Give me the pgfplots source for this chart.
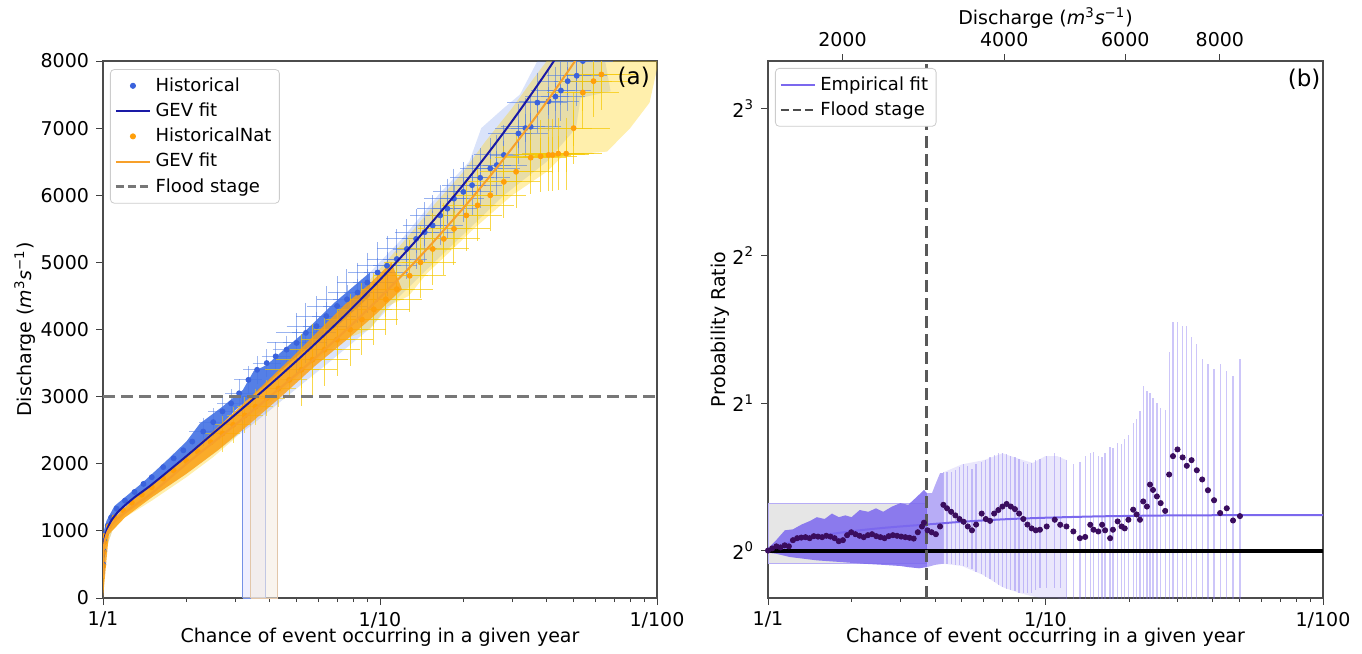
\documentclass[border=0pt]{standalone}
\usepackage{fontspec}
\setmainfont{DejaVu Sans}
\usepackage{pgfplots}
\pgfplotsset{compat=1.18}
\usepackage{pgfplotstable}

\definecolor{hblue}{HTML}{3A62DC}
\definecolor{hband}{HTML}{4674E4}
\definecolor{gevblue}{HTML}{1A1AA6}
\definecolor{norange}{HTML}{FF9F0A}
\definecolor{nband}{HTML}{FFD21A}
\definecolor{nbar}{HTML}{F5C800}
\definecolor{gevorange}{HTML}{F7A02A}
\definecolor{flood}{HTML}{777777}
\definecolor{msb}{HTML}{7B68EE}
\definecolor{prpt}{HTML}{3A0D5E}

\newcommand{\fs}{\fontsize{9.5}{11.4}\selectfont}

% Historical: return period, discharge
\pgfplotstableread{
rp q
1.002 500
1.005 700
1.01 850
1.02 950
1.04 1080
1.07 1200
1.12 1330
1.2 1450
1.3 1580
1.4 1700
1.5 1800
1.65 1950
1.8 2080
1.95 2200
2.1 2330
2.3 2480
2.5 2620
2.7 2780
2.9 2900
3.1 3050
3.35 3250
3.6 3400
3.9 3500
4.2 3600
4.6 3700
5.0 3800
5.4 3950
5.9 4050
6.4 4200
7.0 4350
7.6 4450
8.3 4550
9.0 4700
9.8 4850
10.6 4950
11.5 5050
12.5 5200
13.5 5350
14.5 5450
15.5 5550
16.5 5700
17.5 5800
18.5 5950
20.0 6050
21.5 6150
23.0 6260
25.0 6400
26.4 6450
28.0 6600
31.6 6920
33.5 7000
35.0 7020
37.0 7380
40.6 7400
43.0 7470
45.0 7560
47.6 7700
51.3 7780
54.0 8000
}\histA

% HistoricalNat
\pgfplotstableread{
rp q
1.002 480
1.005 680
1.01 830
1.02 930
1.05 1070
1.1 1200
1.18 1310
1.27 1420
1.38 1540
1.5 1650
1.65 1780
1.8 1900
2.0 2040
2.2 2180
2.45 2320
2.7 2450
2.95 2580
3.25 2720
3.55 2850
3.9 2980
4.3 3120
4.7 3250
5.2 3400
5.7 3550
6.3 3700
7.0 3850
7.8 4000
8.6 4150
9.5 4300
10.5 4450
11.5 4600
12.8 4800
14.0 5000
15.5 5200
17.0 5350
18.5 5500
20.5 5700
22.5 5850
25.0 6000
28.0 6200
31.0 6350
35.0 6560
38.0 6580
40.6 6600
42.0 6600
44.0 6620
47.0 6620
50.0 7000
54.0 7530
59.0 7700
63.0 7800
}\natA

% GEV fit, Historical
\pgfplotstableread{
rp q
1.0005 350
1.002 600
1.01 850
1.03 1000
1.07 1150
1.15 1310
1.3 1500
1.5 1690
2 2113
2.5 2454
3 2731
4 3176
5 3533
6 3835
7 4098
8 4334
10 4742
12.5 5173
15 5542
20 6158
25 6668
30 7106
35 7493
40 7841
45 8158
50 8450
}\gevH

% GEV fit, HistoricalNat
\pgfplotstableread{
rp q
1.0005 300
1.002 550
1.01 800
1.03 950
1.07 1080
1.15 1210
1.3 1380
1.5 1561
2 1998
2.5 2319
3 2580
4 3000
5 3336
6 3620
7 3869
8 4091
10 4476
12.5 4881
15 5229
20 5810
25 6289
30 6703
35 7066
40 7394
45 7694
50 7968
55 8224
}\gevN

% Probability ratio, dense part
\pgfplotstableread{
rp r
1.000 1.00
1.035 1.01
1.072 1.02
1.109 1.015
1.148 1.025
1.189 1.02
1.230 1.05
1.274 1.06
1.318 1.063
1.365 1.065
1.413 1.06
1.462 1.07
1.514 1.068
1.567 1.065
1.622 1.072
1.679 1.068
1.738 1.06
1.799 1.045
1.862 1.05
1.928 1.075
1.995 1.09
2.065 1.08
2.138 1.072
2.213 1.065
2.291 1.075
2.371 1.08
2.455 1.07
2.541 1.065
2.630 1.06
2.723 1.07
2.818 1.075
2.917 1.072
3.020 1.068
3.126 1.065
3.236 1.062
3.350 1.058
3.467 1.09
3.589 1.12
3.648 1.14
3.758 1.10
3.890 1.09
4.027 1.08
4.169 1.12
}\prA

% Probability ratio with bar bounds
\pgfplotstableread{
rp r hi lo
4.285 1.24 1.444 0.939
4.416 1.22 1.444 0.939
4.571 1.20 1.45 0.937
4.732 1.18 1.46 0.935
4.898 1.16 1.48 0.933
5.070 1.145 1.50 0.930
5.248 1.12 1.49 0.925
5.433 1.10 1.47 0.915
5.623 1.13 1.50 0.905
5.888 1.19 1.52 0.895
6.095 1.16 1.53 0.885
6.310 1.15 1.55 0.875
6.531 1.19 1.57 0.862
6.761 1.21 1.58 0.850
6.998 1.23 1.58 0.842
7.244 1.245 1.575 0.835
7.499 1.23 1.56 0.830
7.762 1.215 1.55 0.825
8.035 1.19 1.54 0.82
8.318 1.16 1.52 0.82
8.610 1.13 1.50 0.82
8.913 1.11 1.51 0.82
9.226 1.10 1.53 0.83
9.550 1.103 1.54 0.84
10.1 1.12 1.56 0.84
10.8 1.156 1.58 0.84
11.3 1.129 1.55 0.84
11.9 1.12 1.53 0.78
12.6 1.094 1.50 0.75
13.3 1.06 1.52 0.72
13.9 1.066 1.56 0.72
14.5 1.129 1.58 0.72
14.9 1.103 1.59 0.72
15.5 1.094 1.56 0.72
16.0 1.129 1.55 0.72
16.4 1.10 1.58 0.72
17.1 1.06 1.63 0.72
17.5 1.103 1.62 0.72
18.2 1.147 1.66 0.72
18.8 1.12 1.65 0.72
19.3 1.11 1.69 0.72
19.9 1.156 1.72 0.72
20.7 1.212 1.82 0.72
21.3 1.185 1.86 0.72
21.9 1.156 1.93 0.72
22.5 1.26 2.17 0.72
23.2 1.23 2.12 0.72
23.8 1.364 2.10 0.72
24.4 1.33 2.05 0.72
25.2 1.29 2.0 0.72
26.0 1.25 1.96 0.72
27.0 1.205 1.94 0.72
27.9 1.43 2.55 0.72
28.8 1.559 2.93 0.72
29.9 1.609 2.93 0.72
31.2 1.55 2.87 0.72
32.3 1.49 2.87 0.72
33.6 1.53 2.73 0.72
35.1 1.459 2.64 0.72
36.7 1.397 2.46 0.72
38.5 1.328 2.40 0.72
40.5 1.267 2.35 0.72
42.6 1.193 2.40 0.72
45.0 1.22 2.33 0.72
47.4 1.152 2.27 0.72
50.2 1.176 2.46 0.72
}\prB

\pgfplotstableread{
rp r
1 1.0
1.2 1.04
1.5 1.07
2 1.095
2.5 1.11
3 1.12
3.7 1.13
5 1.145
7 1.158
10 1.167
15 1.174
20 1.177
30 1.18
50 1.181
100 1.182
}\empfit

\begin{document}
\begin{tikzpicture}
\path[use as bounding box] (0,0) rectangle (681pt,327pt);

% ---------------- Panel (a) ----------------
\begin{axis}[scale only axis, width=277pt, height=268.5pt,
  at={(51.5pt,28pt)}, anchor=south west,
  clip marker paths=true,
  xmode=log, xmin=1, xmax=100,
  xtick={1,10,100}, xticklabels={1/1,1/10,1/100},
  minor xtick={2,3,4,5,6,7,8,9,20,30,40,50,60,70,80,90},
  tick align=outside, xtick pos=left, ytick pos=left,
  major tick length=3.5pt, minor tick length=2pt,
  tick style={black!75, line width=0.5pt},
  axis line style={black!70, line width=0.6pt},
  tick label style={font=\fs},
  yticklabel style={/pgf/number format/1000 sep={}, /pgf/number format/assume math mode=true},
  ymin=0, ymax=8000, ytick={0,1000,2000,3000,4000,5000,6000,7000,8000},
  xlabel={Chance of event occurring in a given year},
  xlabel style={font=\fs, at={(axis description cs:0.5,-0.0726)}, anchor=center},
  ylabel={Discharge (\textit{m}\textsuperscript{3}\textit{s}\textsuperscript{−1})},
  ylabel style={font=\fs, at={(axis description cs:-0.141,0.5)}, anchor=center},
  legend cell align=left,
  legend style={font=\fontsize{9}{10.5}\selectfont, draw=black!20, rounded corners=2pt,
    fill=white, inner sep=2pt, row sep=0.3pt, anchor=north west, at={(0.0126,0.985)}},
]
\addlegendimage{only marks, mark=*, mark size=1.3pt, hblue}
\addlegendentry{Historical}
\addlegendimage{gevblue, line width=1pt}
\addlegendentry{GEV fit}
\addlegendimage{only marks, mark=*, mark size=1.3pt, norange}
\addlegendentry{HistoricalNat}
\addlegendimage{gevorange, line width=1pt}
\addlegendentry{GEV fit}
\addlegendimage{flood, line width=1.5pt, dash pattern=on 4pt off 2pt}
\addlegendentry{Flood stage}

% flood-stage crossing bands
\addplot[forget plot, fill=blue!10!white, fill opacity=0.6, draw=hblue!70, line width=0.5pt]
  coordinates {(3.2,0) (3.2,3000) (3.86,3000) (3.86,0) (3.2,0)};
\addplot[forget plot, fill=brown!15!white, fill opacity=0.6, draw=brown!45, line width=0.5pt]
  coordinates {(3.42,0) (3.42,3000) (4.27,3000) (4.27,0) (3.42,0)};

% Historical envelope (light)
\addplot[forget plot, fill=hband, fill opacity=0.2, draw=none] coordinates {
 (1.0,0) (1.0,950) (1.03,1150) (1.1,1370) (1.2,1500) (1.4,1730) (1.7,2050) (2.0,2330)
 (2.24,2600) (2.7,2850) (3.2,3100) (3.5,3380) (3.9,3470) (4.5,3700) (5.2,3920) (6.85,4400)
 (9.2,4850) (12,5350) (16.2,6000) (21,6500) (23.2,7000) (28,7300) (32,7500) (37,8000)
 (65,8000) (68,7550) (53,7450) (51,7000) (40,6500) (28,6000) (21,5500) (15.7,5000)
 (11.8,4500) (9.1,4000) (6.5,3500) (4.6,3000) (3.5,2600) (2.6,2200) (2.0,1850) (1.5,1500)
 (1.2,1250) (1.08,1000) (1.02,700) (1.0,0)};
% HistoricalNat envelope (light)
\addplot[forget plot, fill=nband, fill opacity=0.36, draw=none] coordinates {
 (1.0,0) (1.0,850) (1.05,1080) (1.15,1250) (1.4,1600) (1.8,1950) (2.3,2350) (3.0,2750)
 (3.8,3150) (4.8,3550) (6,3950) (7.5,4350) (9,4700) (11,5100) (13,5450) (16,5900)
 (20,6350) (24,6800) (30,7300) (36,7750) (40,8000)
 (100,8000) (100,7880) (94,7380) (80,7000) (66,6650) (46,6600) (40,6350) (30,6000)
 (21.8,5500) (16.3,5000) (14.8,4840) (12.7,4500) (10.6,4340) (9.2,4000) (7.35,3845)
 (5.5,3450) (4.25,3000) (3.5,2700) (2.95,2355) (2.5,2100) (2.0,1800) (1.5,1450)
 (1.2,1200) (1.08,1000) (1.02,700) (1.0,0)};
% Historical dense band
\addplot[forget plot, fill=hband, fill opacity=0.9, draw=none] coordinates {
 (1.0,0) (1.0,950) (1.03,1150) (1.1,1370) (1.2,1500) (1.4,1730) (1.7,2050) (2.0,2330)
 (2.24,2600) (2.7,2850) (3.2,3100) (3.5,3380) (3.9,3470) (4.5,3700) (5.2,3920) (6.85,4400)
 (9.2,4850) (9.2,4500) (7,4050) (5,3600) (3.8,3150) (3,2800) (2.3,2300) (1.8,1950)
 (1.4,1600) (1.15,1300) (1.05,1080) (1.0,800)};

% uncertainty whiskers (drawn as crosses at the sample points)
\addplot[forget plot, only marks, mark=+, mark size=7pt,
  mark options={draw=hband, draw opacity=0.5, line width=0.45pt},
  skip coords between index={0}{15}] table[x=rp, y=q] {\histA};
\addplot[forget plot, only marks, mark=+, mark size=15pt,
  mark options={draw=hband, draw opacity=0.55, line width=0.5pt},
  skip coords between index={0}{25}] table[x=rp, y=q] {\histA};
\addplot[forget plot, only marks, mark=+, mark size=9pt,
  mark options={draw=nbar, draw opacity=0.6, line width=0.45pt},
  skip coords between index={0}{15}] table[x=rp, y=q] {\natA};
\addplot[forget plot, only marks, mark=+, mark size=18pt,
  mark options={draw=nbar, draw opacity=0.7, line width=0.5pt},
  skip coords between index={0}{22}] table[x=rp, y=q] {\natA};

% HistoricalNat dense band
\addplot[forget plot, fill=norange, fill opacity=0.8, draw=none] coordinates {
 (1.0,0) (1.0,900) (1.05,1100) (1.15,1280) (1.4,1600) (1.8,1960) (2.3,2350) (3.0,2780)
 (3.8,3180) (4.8,3580) (6,3980) (7.5,4380) (9,4650) (11,5000)
 (12,4600) (9.5,4200) (7.6,3850) (5.8,3450) (4.4,3000) (3.4,2600) (2.6,2200) (2.0,1850)
 (1.5,1500) (1.2,1200) (1.05,950) (1.0,0)};

% points
\addplot[forget plot, only marks, mark=*, mark size=1.25pt, color=hblue]
  table[x=rp, y=q] {\histA};
\addplot[forget plot, only marks, mark=*, mark size=1.25pt, color=norange]
  table[x=rp, y=q] {\natA};

% GEV fits
\addplot[forget plot, gevblue, line width=1pt, smooth] table[x=rp, y=q] {\gevH};
\addplot[forget plot, gevorange, line width=1pt, smooth] table[x=rp, y=q] {\gevN};

% flood stage
\addplot[forget plot, flood, line width=1.6pt, dash pattern=on 6pt off 3pt]
  coordinates {(1,3000) (100,3000)};

\node[font=\fontsize{11.5}{13}\selectfont] at (rel axis cs:0.958,0.97) {(a)};
\end{axis}

% ---------------- Panel (b) ----------------
\begin{axis}[scale only axis, width=277.5pt, height=268.5pt,
  at={(384pt,28pt)}, anchor=south west,
  xmode=log, xmin=1, xmax=100,
  xtick={1,10,100}, xticklabels={1/1,1/10,1/100},
  minor xtick={2,3,4,5,6,7,8,9,20,30,40,50,60,70,80,90},
  tick align=outside, xtick pos=left, ytick pos=left,
  major tick length=3.5pt, minor tick length=2pt,
  tick style={black!75, line width=0.5pt},
  axis line style={black!70, line width=0.6pt},
  tick label style={font=\fs},
  ymode=log, log basis y=2, ymin=0.8, ymax=10,
  ytick={1,2,4,8}, yticklabels={2\textsuperscript{0},2\textsuperscript{1},2\textsuperscript{2},2\textsuperscript{3}},
  minor ytick={},
  xlabel={Chance of event occurring in a given year},
  xlabel style={font=\fs, at={(axis description cs:0.5,-0.0726)}, anchor=center},
  ylabel={Probability Ratio},
  ylabel style={font=\fs, at={(axis description cs:-0.0865,0.5)}, anchor=center},
  legend cell align=left,
  legend style={font=\fontsize{9}{10.5}\selectfont, draw=black!20, rounded corners=2pt,
    fill=white, inner sep=2pt, row sep=0.3pt, anchor=north west, at={(0.0126,0.987)}},
]
\addlegendimage{msb, line width=1pt}
\addlegendentry{Empirical fit}
\addlegendimage{black!70, line width=1.4pt, dash pattern=on 4pt off 2pt}
\addlegendentry{Flood stage}

% gray box
\addplot[forget plot, fill=black!12, fill opacity=0.8, draw=msb!55, line width=0.6pt]
  coordinates {(1,0.942) (1,1.247) (3.72,1.247) (3.72,0.942) (1,0.942)};

% light envelope where the bars are dense
\addplot[forget plot, fill=msb, fill opacity=0.16, draw=none] coordinates {
 (4.28,1.444) (5,1.5) (6,1.53) (7,1.58) (8,1.54) (9,1.51) (10,1.56) (11,1.56) (11.9,1.53)
 (11.9,0.78) (11,0.8) (9.5,0.8) (8,0.82) (7,0.842) (6,0.89) (5,0.93) (4.28,0.94)};

% light bars: from ratio 1 up to the upper bound and down to the lower bound
\addplot[forget plot, ycomb, msb, draw opacity=0.38, line width=0.65pt]
  table[x=rp, y=hi] {\prB};
\addplot[forget plot, ycomb, msb, draw opacity=0.38, line width=0.65pt]
  table[x=rp, y=lo] {\prB};

% dense band
\addplot[forget plot, fill=msb, fill opacity=0.85, draw=none] coordinates {
 (1,1.011) (1.07,1.05) (1.15,1.10) (1.23,1.105) (1.32,1.13) (1.42,1.15) (1.5,1.17)
 (1.6,1.16) (1.7,1.19) (1.8,1.17) (1.9,1.18) (2.0,1.17) (2.14,1.21) (2.3,1.2) (2.45,1.22)
 (2.6,1.20) (2.8,1.23) (3.0,1.25) (3.2,1.24) (3.35,1.27) (3.5,1.30) (3.65,1.33) (3.74,1.31)
 (3.74,0.925) (3.5,0.92) (3.2,0.925) (3.0,0.93) (2.6,0.935) (2.2,0.94) (1.8,0.948)
 (1.5,0.955) (1.2,0.97) (1.07,0.985) (1,0.99)};
\addplot[forget plot, fill=msb, fill opacity=0.55, draw=none] coordinates {
 (3.74,1.31) (3.9,1.31) (4.0,1.36) (4.17,1.44) (4.28,1.44) (4.28,0.94) (4.0,0.935) (3.74,0.925)};

% ratio = 1
\addplot[forget plot, black, line width=2pt] coordinates {(1,1) (100,1)};
% empirical fit
\addplot[forget plot, msb, line width=1pt, smooth] table[x=rp, y=r] {\empfit};
% flood stage
\addplot[forget plot, black!65, line width=1.4pt, dash pattern=on 6pt off 3pt]
  coordinates {(3.72,0.8) (3.72,10)};

% points
\addplot[forget plot, only marks, mark=*, mark size=1.3pt, color=prpt] table[x=rp, y=r] {\prA};
\addplot[forget plot, only marks, mark=*, mark size=1.3pt, color=prpt] table[x=rp, y=r] {\prB};

\node[font=\fontsize{11.5}{13}\selectfont] at (rel axis cs:0.966,0.966) {(b)};
\end{axis}

% top discharge axis of panel (b)
\begin{axis}[scale only axis, width=277.5pt, height=268.5pt, at={(384pt,28pt)}, anchor=south west,
  xmode=log, xmin=1, xmax=100, ymode=log, ymin=0.8, ymax=10,
  axis x line*=top, axis y line=none,
  xtick={1.855,7.1,19.4,42.5}, xticklabels={2000,4000,6000,8000}, minor xtick={},
  tick align=outside, major tick length=3.5pt,
  tick style={black!75, line width=0.5pt},
  axis line style={black!70, line width=0.6pt},
  tick label style={font=\fs},
  xlabel={Discharge (\textit{m}\textsuperscript{3}\textit{s}\textsuperscript{−1})},
  xlabel style={font=\fs, at={(axis description cs:0.5,1.08)}, anchor=center},
]
\addplot[draw=none, forget plot] coordinates {(1,1) (100,1)};
\end{axis}
\end{tikzpicture}
\end{document}
